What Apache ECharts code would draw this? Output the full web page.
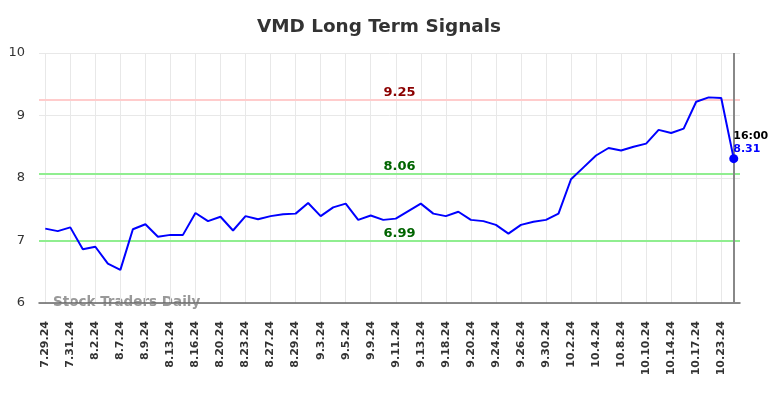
<!DOCTYPE html>
<html>
<head>
<meta charset="utf-8">
<script src="https://cdn.jsdelivr.net/npm/echarts@6/dist/echarts.min.js"></script>
<style>
  html, body { margin: 0; padding: 0; background: #fff; }
  #chart { width: 784px; height: 398px; }
</style>
</head>
<body>
<div id="chart"></div>
<script>
// trading days shown on the x axis (every other one is labelled)
const dates = [
  '7.29.24', '7.30.24', '7.31.24', '8.1.24', '8.2.24', '8.5.24', '8.7.24', '8.8.24',
  '8.9.24', '8.12.24', '8.13.24', '8.14.24', '8.16.24', '8.19.24', '8.20.24', '8.22.24',
  '8.23.24', '8.26.24', '8.27.24', '8.28.24', '8.29.24', '8.30.24', '9.3.24', '9.4.24',
  '9.5.24', '9.6.24', '9.9.24', '9.10.24', '9.11.24', '9.12.24', '9.13.24', '9.16.24',
  '9.18.24', '9.19.24', '9.20.24', '9.23.24', '9.24.24', '9.25.24', '9.26.24', '9.27.24',
  '9.30.24', '10.1.24', '10.2.24', '10.3.24', '10.4.24', '10.7.24', '10.8.24', '10.9.24',
  '10.10.24', '10.11.24', '10.14.24', '10.16.24', '10.17.24', '10.18.24', '10.23.24', '10.24.24'
];

const prices = [
  7.19, 7.15, 7.21, 6.86, 6.90, 6.63, 6.53, 7.18,
  7.26, 7.06, 7.09, 7.09, 7.44, 7.31, 7.38, 7.16,
  7.39, 7.34, 7.39, 7.42, 7.43, 7.60, 7.39, 7.53,
  7.59, 7.33, 7.40, 7.33, 7.35, 7.47, 7.59, 7.43,
  7.39, 7.46, 7.33, 7.31, 7.25, 7.11, 7.25, 7.30,
  7.33, 7.43, 7.98, 8.17, 8.36, 8.48, 8.44, 8.50,
  8.55, 8.77, 8.72, 8.79, 9.22, 9.29, 9.28, 8.31
];

const resistance = 9.25;
const supports = [8.06, 6.99];
const lastTime = '16:00';

const font = 'DejaVu Sans';
const lastIdx = prices.length - 1;

const seriesData = prices.map((v, i) => {
  if (i !== lastIdx) return v;
  return {
    value: v,
    label: {
      show: true,
      position: 'right',
      distance: 0,
      offset: [-5, -16],
      formatter: '{t|' + lastTime + '}\n{v|' + v.toFixed(2) + '}',
      rich: {
        t: { color: '#000', fontWeight: 'bold', fontSize: 11, fontFamily: font, lineHeight: 13 },
        v: { color: '#0000ff', fontWeight: 'bold', fontSize: 11, fontFamily: font, lineHeight: 13 }
      }
    }
  };
});

const levelLine = (val, lineColor, textColor) => ({
  yAxis: val,
  lineStyle: { color: lineColor, width: 2, type: 'solid' },
  label: {
    show: true,
    position: 'insideMiddleTop',
    offset: [10, 4],
    formatter: val.toFixed(2),
    color: textColor,
    fontWeight: 'bold',
    fontSize: 13,
    fontFamily: font
  }
});

const chart = echarts.init(document.getElementById('chart'));
chart.setOption({
  animation: false,
  backgroundColor: '#fff',
  title: {
    text: 'VMD Long Term Signals',
    left: 252,
    top: 13,
    textStyle: { fontFamily: font, fontSize: 18.4, fontWeight: 'bold', color: '#333' }
  },
  grid: { left: 39, right: 44, top: 53, bottom: 95 },
  graphic: [{
    type: 'text',
    left: 53,
    top: 295,
    style: {
      text: 'Stock Traders Daily',
      fill: '#999',
      font: 'bold 13.5px "DejaVu Sans"'
    }
  }],
  xAxis: {
    type: 'category',
    data: dates,
    boundaryGap: true,
    axisLine: { lineStyle: { color: '#666', width: 1.5 } },
    axisTick: { show: false },
    axisLabel: {
      interval: 1,
      rotate: 90,
      margin: 18,
      color: '#333',
      fontSize: 11,
      fontWeight: 'bold',
      fontFamily: font
    },
    splitLine: {
      show: true,
      interval: 1,
      alignWithLabel: true,
      lineStyle: { color: '#e8e8e8', width: 1 }
    }
  },
  yAxis: {
    type: 'value',
    min: 6,
    max: 10,
    interval: 1,
    axisLine: { show: false },
    axisTick: { show: false },
    axisLabel: { color: '#333', fontSize: 13, fontFamily: font, margin: 14 },
    splitLine: { lineStyle: { color: '#e8e8e8', width: 1 } }
  },
  series: [{
    type: 'line',
    data: seriesData,
    showSymbol: true,
    showAllSymbol: true,
    symbol: 'circle',
    symbolSize: (val, params) => (params.dataIndex === lastIdx ? 9 : 0),
    lineStyle: { color: '#0000ff', width: 2 },
    itemStyle: { color: '#0000ff' },
    z: 5,
    markLine: {
      silent: true,
      symbol: 'none',
      data: [
        levelLine(resistance, '#ffcccc', '#8b0000'),
        levelLine(supports[0], '#90ee90', '#006400'),
        levelLine(supports[1], '#90ee90', '#006400'),
        {
          xAxis: lastIdx,
          lineStyle: { color: '#888', width: 2, type: 'solid' },
          label: { show: false }
        }
      ]
    }
  }]
});
</script>
</body>
</html>
